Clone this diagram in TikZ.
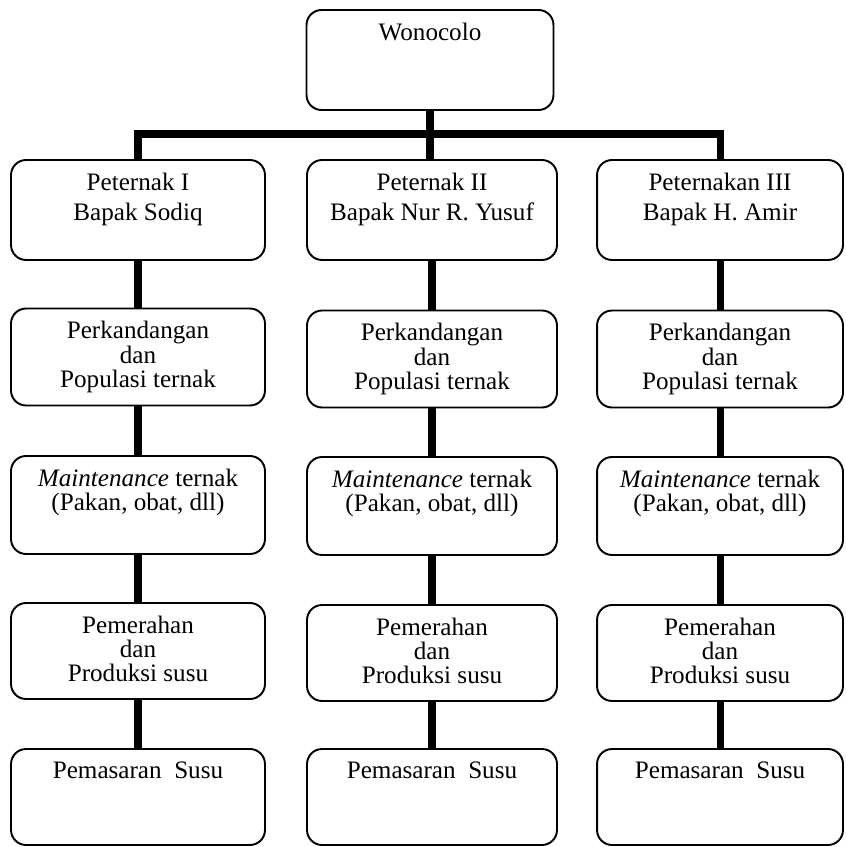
\documentclass[tikz,border=0pt]{standalone}
\usepackage{fontspec}
\setmainfont{Liberation Serif}
\usepackage{tikz}
\usetikzlibrary{positioning,calc}

\begin{document}
\begin{tikzpicture}[
    x=0.02cm,
    y=-0.02cm,
    unit/.style={draw, rounded corners=0.3cm, line width=1.1pt, minimum height=1.96cm, inner sep=0pt},
    txt/.style={anchor=north, yshift=-0.27cm, align=center, inner sep=0pt, font=\fontsize{14.3pt}{13.8pt}\selectfont},
    link/.style={line width=4pt},
    colA/.style={unit, minimum width=5.08cm},
    colB/.style={unit, minimum width=5.0cm},
    colC/.style={unit, minimum width=4.92cm}
  ]
    \useasboundingbox (0,0) rectangle (845,847);

    % -- Desa di puncak --
    \node[unit, minimum width=4.94cm, minimum height=2.0cm, label={[txt]north:Wonocolo}] (w) at (430, 60) {};

    % -- Baris 1: peternak --
    \node[colA, minimum height=2.0cm, label={[txt]north:Peternak I\\[0.11cm]Bapak Sodiq}] (p1) at (138, 210) {};
    \node[colB, minimum height=2.0cm, label={[txt]north:Peternak II\\[0.11cm]Bapak Nur R. Yusuf}] (p2) at (432, 210) {};
    \node[colC, minimum height=2.0cm, label={[txt]north:Peternakan III\\[0.11cm]Bapak H. Amir}] (p3) at (720, 210) {};

    % -- Baris 2: kandang --
    \node[colA, minimum height=1.94cm, label={[txt]north:Perkandangan\\dan\\Populasi ternak}] (k1) at (138, 357) {};
    \node[colB, minimum height=1.94cm, label={[txt]north:Perkandangan\\dan\\Populasi ternak}] (k2) at (432, 359) {};
    \node[colC, minimum height=1.94cm, label={[txt]north:Perkandangan\\dan\\Populasi ternak}] (k3) at (720, 359) {};

    % -- Baris 3: maintenance --
    \node[colA, minimum height=1.96cm, label={[txt]north:\textit{Maintenance} ternak\\(Pakan, obat, dll)}] (m1) at (138, 505) {};
    \node[colB, minimum height=1.96cm, label={[txt]north:\textit{Maintenance} ternak\\(Pakan, obat, dll)}] (m2) at (432, 506) {};
    \node[colC, minimum height=1.96cm, label={[txt]north:\textit{Maintenance} ternak\\(Pakan, obat, dll)}] (m3) at (720, 506) {};

    % -- Baris 4: pemerahan --
    \node[colA, minimum height=1.92cm, label={[txt]north:Pemerahan\\dan\\Produksi susu}] (h1) at (138, 651) {};
    \node[colB, minimum height=1.92cm, label={[txt]north:Pemerahan\\dan\\Produksi susu}] (h2) at (432, 653) {};
    \node[colC, minimum height=1.92cm, label={[txt]north:Pemerahan\\dan\\Produksi susu}] (h3) at (720, 653) {};

    % -- Baris 5: pemasaran --
    \node[colA, minimum height=1.92cm, label={[txt]north:Pemasaran\ \ Susu}] (s1) at (138, 797) {};
    \node[colB, minimum height=1.92cm, label={[txt]north:Pemasaran\ \ Susu}] (s2) at (432, 797) {};
    \node[colC, minimum height=1.92cm, label={[txt]north:Pemasaran\ \ Susu}] (s3) at (720, 797) {};

    % -- Cabang dari Wonocolo --
    \coordinate (bus) at (432, 134);
    \draw[link] (w.south) -- (w.south |- p2.north);
    \draw[link] (p1.north) |- (bus) -| (p3.north);

    % -- Garis tiap kolom --
    \draw[link] (p1) -- (k1);
    \draw[link] (k1) -- (m1);
    \draw[link] (m1) -- (h1);
    \draw[link] (h1) -- (s1);

    \draw[link] (p2) -- (k2);
    \draw[link] (k2) -- (m2);
    \draw[link] (m2) -- (h2);
    \draw[link] (h2) -- (s2);

    \draw[link] (p3) -- (k3);
    \draw[link] (k3) -- (m3);
    \draw[link] (m3) -- (h3);
    \draw[link] (h3) -- (s3);
  \end{tikzpicture}
\end{document}
